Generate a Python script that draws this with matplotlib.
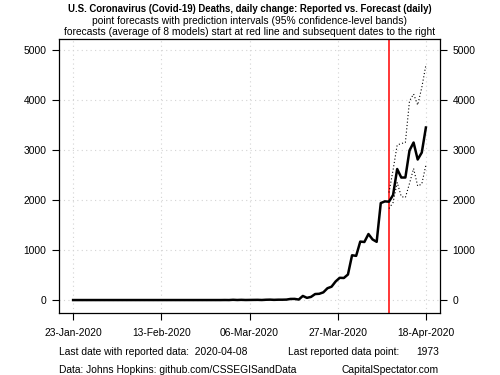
import numpy as np
import pandas as pd
import matplotlib
matplotlib.use("Agg")
import matplotlib.pyplot as plt

plt.rcParams["font.family"] = ["Liberation Sans", "DejaVu Sans"]

# reported daily change in deaths, 23-Jan-2020 .. 08-Apr-2020
start = pd.Timestamp("2020-01-23")
zeros_before = [0] * 37  # 23-Jan .. 28-Feb
reported_tail = [1, 0, 5, 1, 4, 1, 2, 3, 4, 1, 6, 8, 4, 7, 7, 9, 22, 23, 10, 82,
                 44, 63, 120, 125, 154, 236, 267, 372, 445, 441, 511, 895, 884,
                 1169, 1161, 1320, 1212, 1164, 1939, 1973]
reported = zeros_before + reported_tail
reported_dates = pd.date_range(start, periods=len(reported), freq="D")

# forecasts (average of 8 models), 09-Apr .. 18-Apr
fc_dates = pd.date_range("2020-04-09", "2020-04-18", freq="D")
fc_mean = [1967, 2100, 2620, 2450, 2450, 2990, 3150, 2810, 2950, 3450]
fc_upper = [2150, 2600, 3100, 3130, 3150, 3980, 4120, 3900, 4250, 4700]
fc_lower = [1830, 1950, 2350, 2070, 2050, 2330, 2630, 2280, 2320, 2700]

tick_offsets = [0, 21.5, 43, 64.5, 86]
y_ticks = [0, 1000, 2000, 3000, 4000, 5000]


def days(d):
    return np.asarray((d - start).days, dtype=float)


fig = plt.figure(figsize=(5, 3.75), dpi=100)
ax = fig.add_axes([0.118, 0.166, 0.762, 0.730])

x_rep = days(reported_dates)
x_fc = days(fc_dates)

for t in tick_offsets:
    ax.axvline(t, color="#d3d3d3", lw=0.8, linestyle=(0, (1, 3)), zorder=0)
for t in y_ticks:
    ax.axhline(t, color="#d3d3d3", lw=0.8, linestyle=(0, (1, 3)), zorder=0)

ax.plot(np.concatenate([x_rep, x_fc]), reported + fc_mean, color="black", lw=1.8, zorder=3)
ax.plot(x_fc, fc_upper, color="black", lw=0.8, linestyle=(0, (1, 2)), zorder=2)
ax.plot(x_fc, fc_lower, color="black", lw=0.8, linestyle=(0, (1, 2)), zorder=2)
ax.axvline(x_fc[0], color="red", lw=1.1, zorder=1)

ax.set_xlim(-3.44, 89.44)
ax.set_ylim(-254, 5220)
ax.set_xticks(tick_offsets)
ax.set_xticklabels([(start + pd.Timedelta(days=int(t))).strftime("%d-%b-%Y") for t in tick_offsets])
ax.set_yticks(y_ticks)
ax.set_yticklabels([str(v) for v in y_ticks])
ax.tick_params(axis="both", labelsize=7.4, length=5, width=0.8, pad=4)
ax.tick_params(axis="y", right=True, labelright=True)
ax.tick_params(axis="x", pad=6)
for s in ax.spines.values():
    s.set_linewidth(0.9)

fig.text(0.499, 0.975, "U.S. Coronavirus (Covid-19) Deaths, daily change: Reported vs. Forecast (daily)",
         ha="center", va="center", fontsize=6.95, fontweight="bold")
fig.text(0.499, 0.944, "point forecasts with prediction intervals (95% confidence-level bands)",
         ha="center", va="center", fontsize=7.4)
fig.text(0.499, 0.914, "forecasts (average of 8 models) start at red line and subsequent dates to the right",
         ha="center", va="center", fontsize=7.4)

fig.text(0.118, 0.061, "Last date with reported data:  2020-04-08", ha="left", va="center", fontsize=7.4)
fig.text(0.576, 0.061, "Last reported data point:", ha="left", va="center", fontsize=7.4)
fig.text(0.878, 0.061, "1973", ha="right", va="center", fontsize=7.4)
fig.text(0.118, 0.014, "Data: Johns Hopkins: github.com/CSSEGISandData", ha="left", va="center", fontsize=7.4)
fig.text(0.878, 0.014, "CapitalSpectator.com", ha="right", va="center", fontsize=7.4)

fig.savefig("out.png", dpi=100)
